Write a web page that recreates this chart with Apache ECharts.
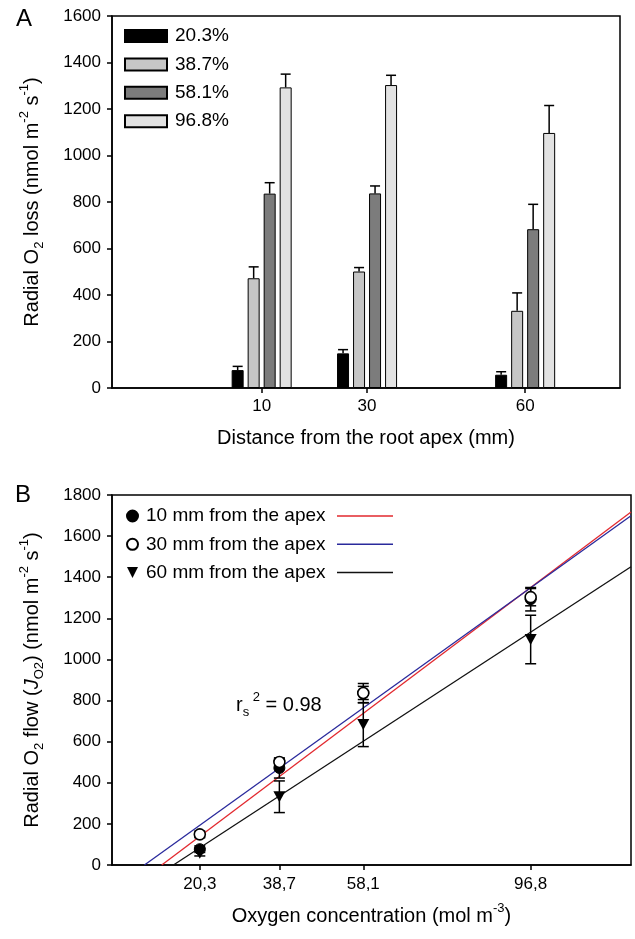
<!DOCTYPE html>
<html><head><meta charset="utf-8">
<script src="https://cdn.jsdelivr.net/npm/echarts@6/dist/echarts.min.js"></script>
<style>html,body{margin:0;padding:0;background:#fff}#c{width:635px;height:939px}</style>
</head><body><div id="c"></div>
<script>
// ---- data ----
const distances = [10, 30, 60];
const distanceTickLabels = ['10', '30', '60'];
const concentrations = [20.3, 38.7, 58.1, 96.8];
const concentrationLegend = ['20.3%', '38.7%', '58.1%', '96.8%'];
const concentrationTickLabels = ['20,3', '38,7', '58,1', '96,8'];
const rol10mm = [77, 472, 836, 1293];
const se10mm = [16, 49, 47, 57];
const rol30mm = [149, 501, 837, 1303];
const se30mm = [16, 17, 32, 42];
const rol60mm = [57, 332, 683, 1097];
const se60mm = [13, 77, 107, 118];
const fit10mm = [[11.5, 0], [120, 1717]];
const fit30mm = [[7.5, 0], [120, 1699]];
const fit60mm = [[14.2, 0], [120, 1451]];
const apexNames = ['10 mm from the apex', '30 mm from the apex', '60 mm from the apex'];
const fitNames = ['10 mm fit', '30 mm fit', '60 mm fit'];

// ---- build ----
const FONT = "'Liberation Sans', Arial, sans-serif";
const byDistance = [rol10mm, rol30mm, rol60mm];
const seByDistance = [se10mm, se30mm, se60mm];
const fits = [fit10mm, fit30mm, fit60mm];
const barColors = ['#000000', '#c6c6c6', '#7c7c7c', '#e2e2e2'];
const fitColors = ['#e2282e', '#2a2a9c', '#111111'];
const BAR_W = 12, BAR_PITCH = 16;

const series = [];
concentrationLegend.forEach((name, i) => {
  series.push({
    name, type: 'bar', xAxisIndex: 0, yAxisIndex: 0,
    barWidth: BAR_W, barGap: '33.4%',
    itemStyle: { color: barColors[i], borderColor: '#000', borderWidth: 1 },
    data: distances.map((d, j) => [d, byDistance[j][i]]),
    z: 2
  });
});
concentrationLegend.forEach((name, i) => {
  series.push({
    type: 'custom', xAxisIndex: 0, yAxisIndex: 0, z: 3, silent: true,
    data: distances.map((d, j) => [d, byDistance[j][i], seByDistance[j][i]]),
    renderItem: (params, api) => {
      const x = api.value(0), v = api.value(1), e = api.value(2);
      const p0 = api.coord([x, v]), p1 = api.coord([x, v + e]);
      const cx = p0[0] + (i - 1.5) * BAR_PITCH;
      return { type: 'group', children: [
        { type: 'line', shape: { x1: cx, y1: p0[1], x2: cx, y2: p1[1] }, style: { stroke: '#000', lineWidth: 1.5 } },
        { type: 'line', shape: { x1: cx - 5, y1: p1[1], x2: cx + 5, y2: p1[1] }, style: { stroke: '#000', lineWidth: 1.5 } }
      ] };
    }
  });
});
// Panel B
fitNames.forEach((name, k) => {
  series.push({
    name, type: 'line', xAxisIndex: 1, yAxisIndex: 1, symbol: 'none', showSymbol: false,
    lineStyle: { color: fitColors[k], width: 1.3 }, itemStyle: { color: fitColors[k] },
    data: fits[k], z: 1, silent: true
  });
});
apexNames.forEach((name, k) => {
  series.push({
    type: 'custom', xAxisIndex: 1, yAxisIndex: 1, z: 2, silent: true,
    data: concentrations.map((c, i) => [c, byDistance[k][i], seByDistance[k][i]]),
    renderItem: (params, api) => {
      const x = api.value(0), v = api.value(1), e = api.value(2);
      const lo = api.coord([x, v - e]), hi = api.coord([x, v + e]);
      const cx = lo[0];
      const st = { stroke: '#000', lineWidth: 1.5 };
      return { type: 'group', children: [
        { type: 'line', shape: { x1: cx, y1: lo[1], x2: cx, y2: hi[1] }, style: st },
        { type: 'line', shape: { x1: cx - 5.5, y1: lo[1], x2: cx + 5.5, y2: lo[1] }, style: st },
        { type: 'line', shape: { x1: cx - 5.5, y1: hi[1], x2: cx + 5.5, y2: hi[1] }, style: st }
      ] };
    }
  });
});
const markerDefs = [
  { symbol: 'circle', symbolSize: 11, itemStyle: { color: '#000', borderColor: '#000', borderWidth: 1, opacity: 1 } },
  { symbol: 'circle', symbolSize: 11, itemStyle: { color: '#fff', borderColor: '#000', borderWidth: 1.6, opacity: 1 } },
  { symbol: 'path://M0,0L10,0L5,10Z', symbolSize: [12, 11], itemStyle: { color: '#000', borderColor: '#000', borderWidth: 0, opacity: 1 } }
];
apexNames.forEach((name, k) => {
  series.push(Object.assign({
    name, type: 'scatter', xAxisIndex: 1, yAxisIndex: 1, z: 3,
    data: concentrations.map((c, i) => [c, byDistance[k][i]])
  }, markerDefs[k]));
});

const axisLineStyle = { show: true, onZero: false, lineStyle: { color: '#000', width: 1.5 } };
const tickStyle = { show: true, inside: false, length: 5, lineStyle: { color: '#000', width: 1.5 } };
const labelStyle = { color: '#000', fontSize: 17, fontFamily: FONT };
const richY = {
  a: { fontSize: 20, fontFamily: FONT, color: '#000', lineHeight: 28 },
  sub: { fontSize: 13, fontFamily: FONT, color: '#000', verticalAlign: 'bottom', lineHeight: 13 },
  sup: { fontSize: 13, fontFamily: FONT, color: '#000', verticalAlign: 'top', lineHeight: 13 },
  i: { fontSize: 20, fontFamily: FONT, color: '#000', fontStyle: 'italic', lineHeight: 28 }
};

const option = {
  animation: false,
  backgroundColor: '#fff',
  grid: [
    { left: 112, top: 16, width: 508, height: 372, show: true, borderColor: '#000', borderWidth: 1.5, backgroundColor: 'transparent' },
    { left: 112, top: 495, width: 519, height: 370, show: true, borderColor: '#000', borderWidth: 1.5, backgroundColor: 'transparent' }
  ],
  xAxis: [
    { gridIndex: 0, type: 'value', min: -18.4, max: 78,
      axisLine: axisLineStyle, splitLine: { show: false },
      axisTick: Object.assign({}, tickStyle, { customValues: distances }),
      axisLabel: Object.assign({}, labelStyle, { margin: 10, customValues: distances,
        formatter: v => distanceTickLabels[distances.indexOf(v)] }),
      name: 'Distance from the root apex (mm)', nameLocation: 'middle', nameGap: 40,
      nameTextStyle: { fontSize: 20, fontFamily: FONT, color: '#000' } },
    { gridIndex: 1, type: 'value', min: 0, max: 120,
      axisLine: axisLineStyle, splitLine: { show: false },
      axisTick: Object.assign({}, tickStyle, { customValues: concentrations }),
      axisLabel: Object.assign({}, labelStyle, { margin: 11, customValues: concentrations,
        formatter: v => concentrationTickLabels[concentrations.indexOf(v)] }),
      name: '{a|Oxygen concentration (mol m}{sup|-3}{a|)}', nameLocation: 'middle', nameGap: 37,
      nameTextStyle: { rich: richY } }
  ],
  yAxis: [
    { gridIndex: 0, type: 'value', min: 0, max: 1600, interval: 200,
      axisLine: axisLineStyle, axisTick: tickStyle, splitLine: { show: false },
      axisLabel: Object.assign({}, labelStyle, { margin: 11, formatter: v => String(v) }),
      name: '{a|Radial O}{sub|2}{a| loss (nmol m}{sup|-2}{a| s}{sup|-1}{a|)}',
      nameLocation: 'middle', nameRotate: 90, nameGap: 66, nameTextStyle: { rich: richY } },
    { gridIndex: 1, type: 'value', min: 0, max: 1800, interval: 200,
      axisLine: axisLineStyle, axisTick: tickStyle, splitLine: { show: false },
      axisLabel: Object.assign({}, labelStyle, { margin: 11, formatter: v => String(v) }),
      name: '{a|Radial O}{sub|2}{a| flow (}{i|J}{sub|O2}{a|) (nmol m}{sup|-2}{a| s}{sup|-1}{a|)}',
      nameLocation: 'middle', nameRotate: 90, nameGap: 66, nameTextStyle: { rich: richY } }
  ],
  legend: [
    { data: concentrationLegend, orient: 'vertical', left: 119, top: 21, icon: 'rect',
      itemWidth: 42, itemHeight: 12, itemGap: 8.4, selectedMode: false,
      textStyle: { fontSize: 19, fontFamily: FONT, color: '#000', lineHeight: 20, padding: [0, 0, 0, 3] } },
    { data: apexNames, orient: 'vertical', left: 121, top: 501, itemWidth: 11, itemHeight: 11,
      itemGap: 8.3, selectedMode: false,
      textStyle: { fontSize: 19, fontFamily: FONT, color: '#000', lineHeight: 20, padding: [0, 0, 0, 3] } },
    { data: fitNames, orient: 'vertical', left: 332, top: 501, itemWidth: 56, itemHeight: 1.5,
      icon: 'rect', itemGap: 8.3, selectedMode: false, formatter: () => ' ',
      textStyle: { fontSize: 19, fontFamily: FONT, color: '#000', lineHeight: 20 } }
  ],
  graphic: [
    { type: 'text', left: 16, top: 7, style: { text: 'A', fontSize: 24, fontFamily: FONT, fill: '#000' } },
    { type: 'text', left: 15, top: 483, style: { text: 'B', fontSize: 24, fontFamily: FONT, fill: '#000' } },
    { type: 'text', left: 236, top: 691, style: {
        text: '{a|r}{sub|s}{sup| 2}{a| = 0.98}',
        rich: richY } }
  ],
  series
};
const chart = echarts.init(document.getElementById('c'), null, { renderer: 'canvas' });
chart.setOption(option);
</script></body></html>
